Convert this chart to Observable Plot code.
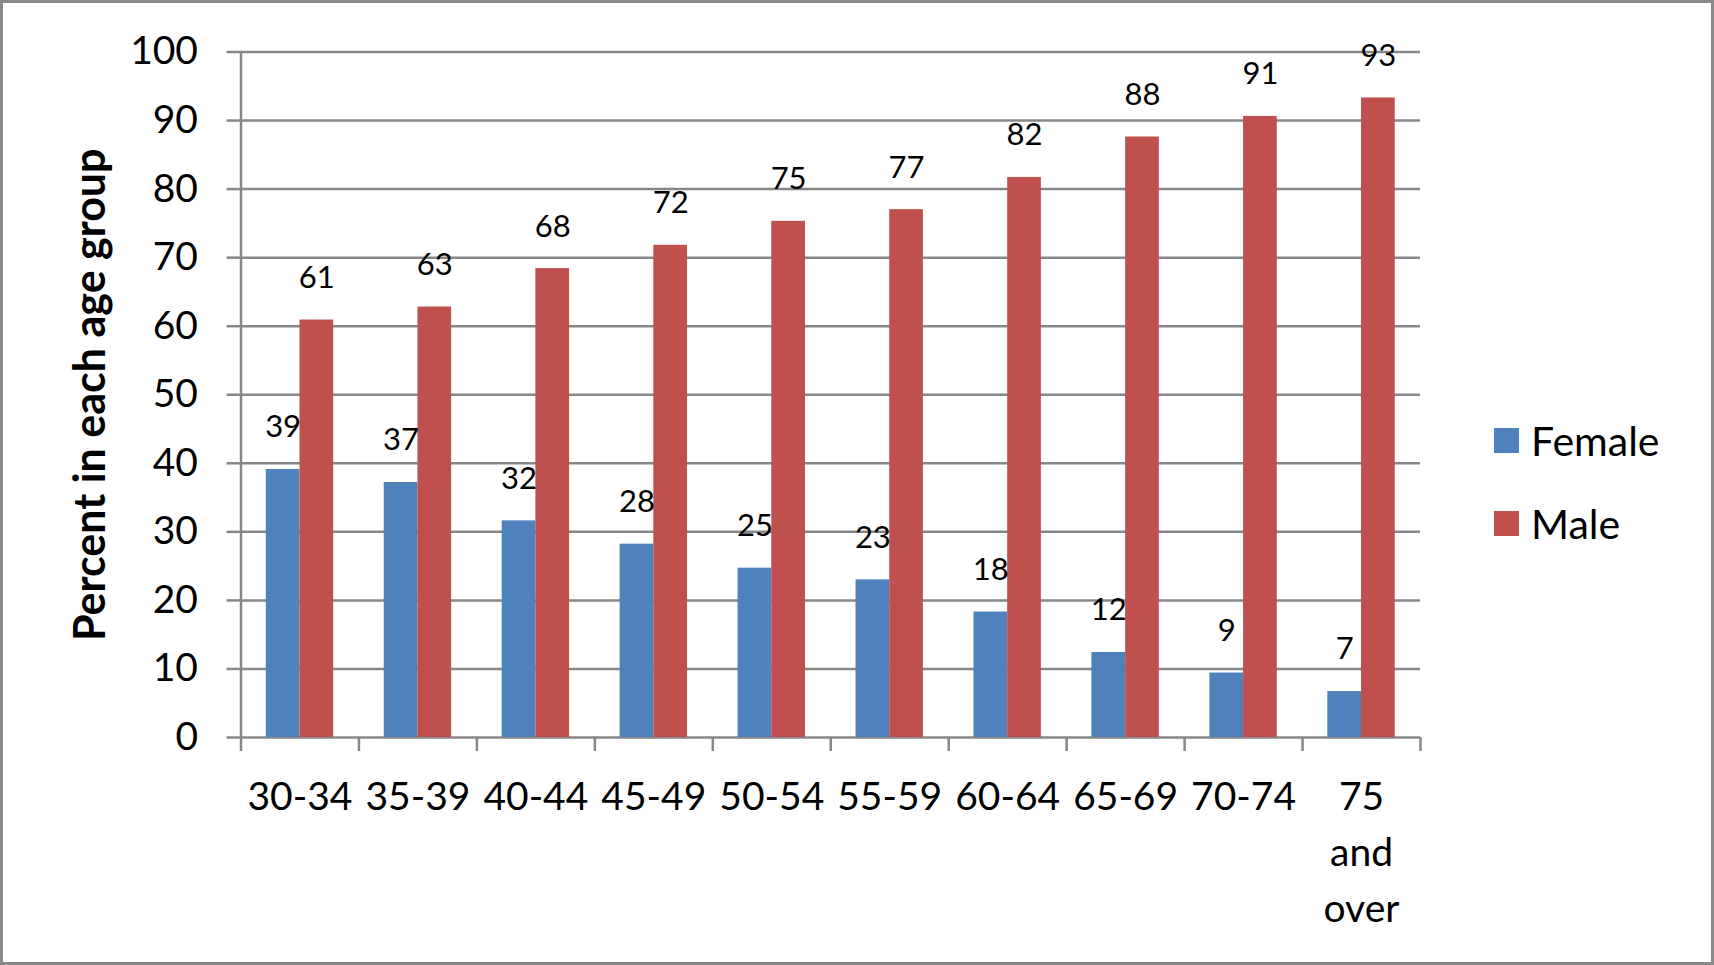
<!DOCTYPE html>
<html>
<head>
<meta charset="utf-8">
<script src="https://cdn.jsdelivr.net/npm/d3@7"></script>
<script src="https://cdn.jsdelivr.net/npm/@observablehq/plot@0.6"></script>
<style>
  html, body { margin: 0; padding: 0; background: #ffffff; }
  #chart { position: relative; width: 1714px; height: 965px; overflow: hidden; font-family: Lato, "Noto Sans", sans-serif; background: #fff; }
  #chart svg { position: absolute; left: 0; top: 0; }
  #border { position: absolute; left: 0; top: 0; width: 1714px; height: 965px; box-sizing: border-box; border: 3px solid #898989; pointer-events: none; }
  .legend-row { position: absolute; left: 1494px; height: 46px; display: flex; align-items: center; font-size: 41px; color: #000; white-space: nowrap; }
  .legend-swatch { width: 25px; height: 25px; margin-right: 12px; }
</style>
</head>
<body>
<div id="chart"><div id="border"></div></div>
<script>
// ---- data ----
const ageGroups = ["30-34", "35-39", "40-44", "45-49", "50-54", "55-59", "60-64", "65-69", "70-74", "75\nand\nover"];
const femaleValues = [39.1, 37.2, 31.6, 28.2, 24.7, 23.0, 18.3, 12.4, 9.4, 6.7];
const maleValues   = [60.9, 62.8, 68.4, 71.8, 75.3, 77.0, 81.7, 87.6, 90.6, 93.3];
const seriesNames = ["Female", "Male"];
const seriesColors = ["#4F81BD", "#C0504D"];
const yTicks = [0, 10, 20, 30, 40, 50, 60, 70, 80, 90, 100];
const yTitle = "Percent in each age group";

// ---- layout helpers (Excel clustered column, gap width 150%) ----
const gapWidth = 1.5;
const slot = 1 / (seriesNames.length + gapWidth);
const seriesValues = [femaleValues, maleValues];
const rows = [];
ageGroups.forEach((g, i) => {
  seriesValues.forEach((vals, s) => {
    rows.push({
      group: g, series: seriesNames[s], value: vals[i],
      x1: i + slot * (gapWidth / 2 + s),
      x2: i + slot * (gapWidth / 2 + s + 1)
    });
  });
});
const n = ageGroups.length;
const gridColor = "#878787";

const plot = Plot.plot({
  width: 1714,
  height: 965,
  marginLeft: 240.5,
  marginRight: 294,
  marginTop: 51.5,
  marginBottom: 228,
  style: { fontFamily: "Lato, 'Noto Sans', sans-serif", background: "transparent", overflow: "visible", color: "#000" },
  x: { domain: [0, n], label: null },
  y: { domain: [0, 100], label: null },
  color: { domain: seriesNames, range: seriesColors },
  marks: [
    Plot.gridY(yTicks, { stroke: gridColor, strokeOpacity: 1, strokeWidth: 2.5 }),
    Plot.axisY(yTicks, { tickSize: 14, tickPadding: 29, fontSize: 39, stroke: gridColor, strokeWidth: 2.5, strokeOpacity: 1, label: null }),
    Plot.ruleX([0], { stroke: gridColor, strokeWidth: 2.5 }),
    Plot.rectY(rows, { x1: "x1", x2: "x2", y: "value", fill: "series" }),
    Plot.text(rows, { x: d => (d.x1 + d.x2) / 2, y: "value", text: d => d3.format(".0f")(d.value), dy: -42, fontSize: 31, fill: "#000" }),
    Plot.axisX(d3.range(0, n + 1), { tickSize: 14, tickFormat: () => "", stroke: gridColor, strokeWidth: 2.5, strokeOpacity: 1, label: null }),
    Plot.axisX(d3.range(n).map(i => i + 0.5), { tickSize: 0, tickPadding: 33, tickFormat: v => ageGroups[Math.floor(v)], fontSize: 39, lineHeight: 1.43, label: null }),
    Plot.text([yTitle], { frameAnchor: "left", textAnchor: "middle", rotate: -90, dx: -150, fontSize: 43, fontWeight: "bold", fill: "#000" })
  ]
});

const chart = document.getElementById("chart");
chart.insertBefore(plot, chart.firstChild);

// ---- legend ----
const legendCenters = [440, 523];
seriesNames.forEach((name, i) => {
  const row = document.createElement("div");
  row.className = "legend-row";
  row.style.top = (legendCenters[i] - 23) + "px";
  const sw = document.createElement("div");
  sw.className = "legend-swatch";
  sw.style.background = seriesColors[i];
  const label = document.createElement("span");
  label.textContent = name;
  row.appendChild(sw);
  row.appendChild(label);
  chart.appendChild(row);
});
</script>
</body>
</html>
